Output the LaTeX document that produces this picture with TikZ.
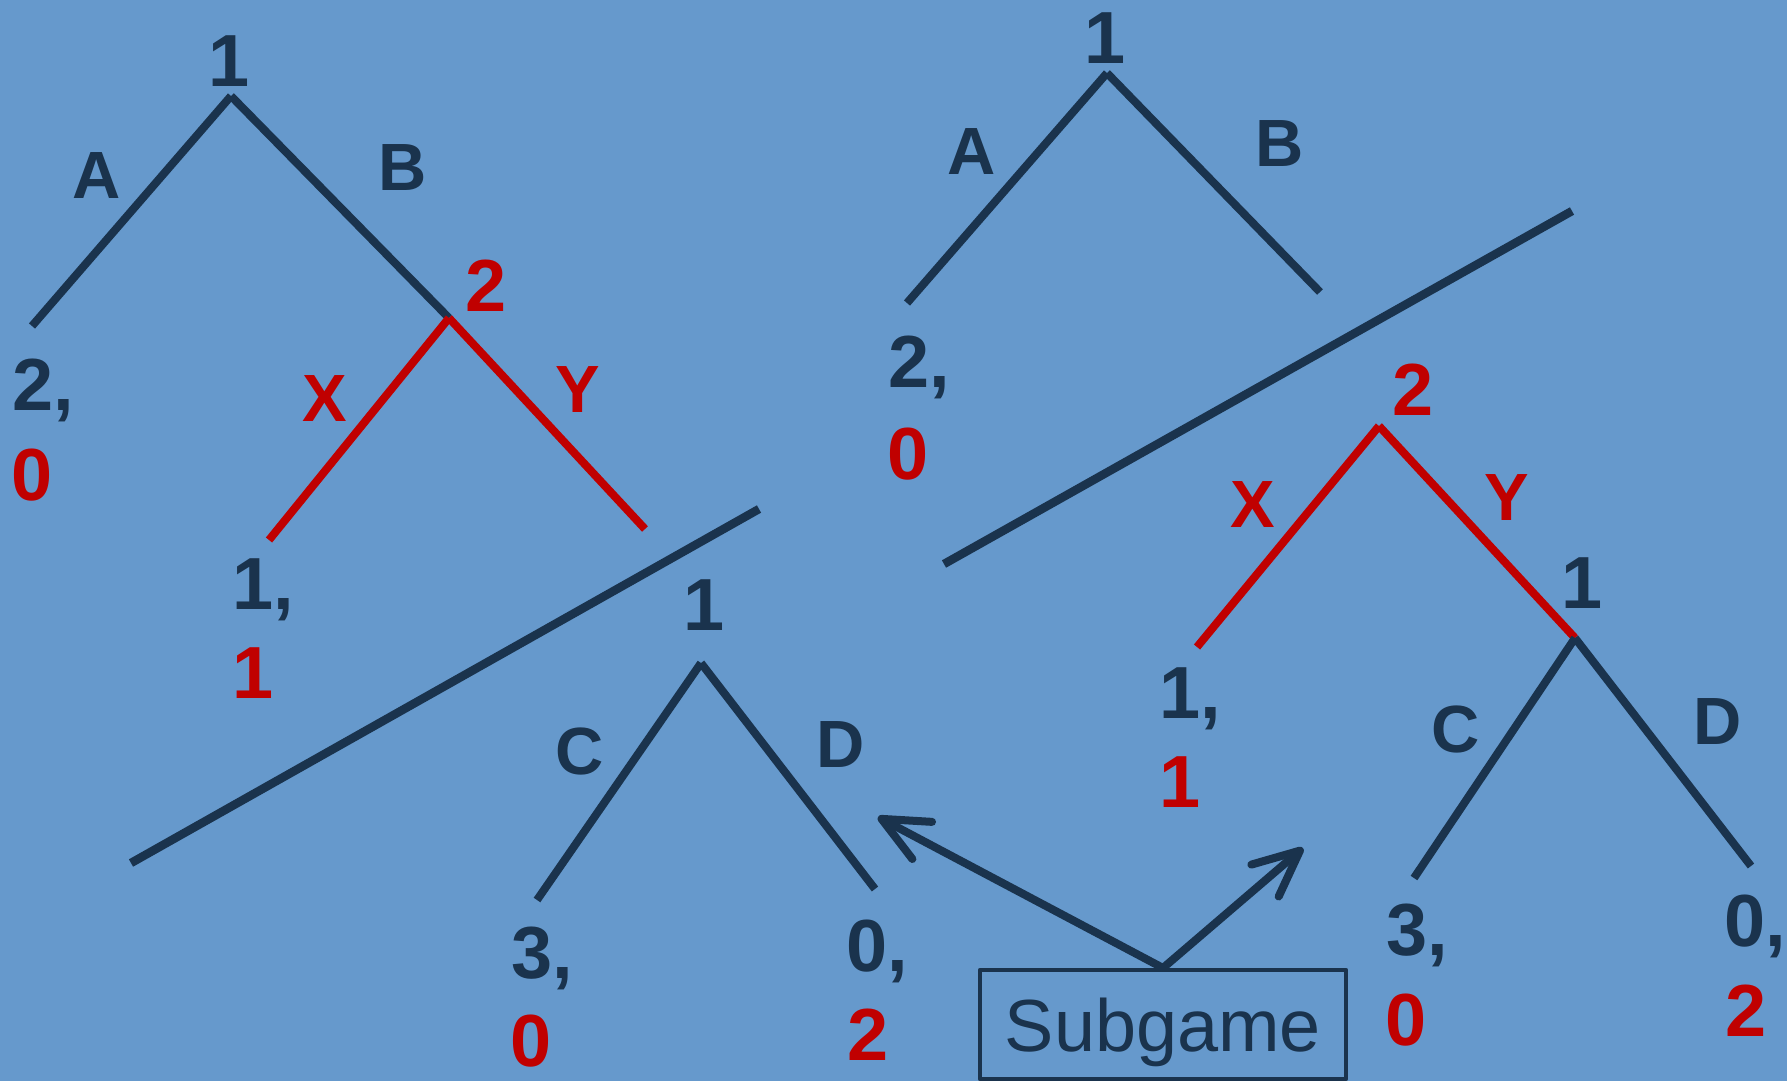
\documentclass[tikz,border=0pt]{standalone}
\usepackage{fontspec}
\setmainfont{Liberation Sans}
\usepackage{xcolor}
\usetikzlibrary{arrows.meta}
\definecolor{slidebg}{HTML}{6699CC}
\definecolor{navy}{HTML}{1A334D}
\definecolor{hired}{HTML}{C00000}

\begin{document}
\begin{tikzpicture}[x=0.01cm, y=-0.01cm, line join=round,
    branch/.style={line width=0.08cm, draw=navy},
    redbranch/.style={line width=0.08cm, draw=hired},
    cutline/.style={line width=0.085cm, draw=navy},
    pointer/.style={line width=0.08cm, draw=navy, line cap=round,
        -{Straight Barb[length=4.6mm, width=4.2mm, round]}},
    lbl/.style={inner sep=0pt, text=navy, font=\fontsize{19}{23}\selectfont\bfseries},
    rlbl/.style={lbl, text=hired},
    num/.style={inner sep=0pt, text=navy, font=\fontsize{21}{25}\selectfont\bfseries},
    rnum/.style={num, text=hired},
    pay/.style={num, anchor=base west},
    rpay/.style={rnum, anchor=base west}]

    % slide background, also fixes the size
    \fill[slidebg] (0,0) rectangle (1787,1081);

    % Full game: 1 moves A/B, then 2 moves X/Y
    \coordinate (L1) at (231,96);
    \coordinate (LA) at (32,326);
    \coordinate (L2) at (449,318);
    \coordinate (LX) at (269,540);
    \coordinate (LY) at (645,529);
    \draw[branch] (L1) -- (LA);
    \draw[branch] (L1) -- (L2);
    \draw[redbranch] (L2) -- (LX);
    \draw[redbranch] (L2) -- (LY);

    % cut between the upper part and the last stage
    \coordinate (Ca) at (131,863);
    \coordinate (Cb) at (759,509);
    \draw[cutline] (Ca) -- (Cb);

    % last stage: 1 moves C/D
    \coordinate (M1) at (701,663);
    \coordinate (MC) at (537,900);
    \coordinate (MD) at (875,889);
    \draw[branch] (M1) -- (MC);
    \draw[branch] (M1) -- (MD);

    % Second copy, cut one stage higher
    \coordinate (R1) at (1107,73);
    \coordinate (RA) at (907,303);
    \coordinate (RB) at (1320,292);
    \draw[branch] (R1) -- (RA);
    \draw[branch] (R1) -- (RB);

    \coordinate (Da) at (944,564);
    \coordinate (Db) at (1572,211);
    \draw[cutline] (Da) -- (Db);

    \coordinate (R2) at (1379,426);
    \coordinate (RX) at (1197,647);
    \coordinate (R3) at (1575,638);
    \coordinate (RC) at (1414,878);
    \coordinate (RD) at (1751,866);
    \draw[redbranch] (R2) -- (RX);
    \draw[redbranch] (R2) -- (R3);
    \draw[branch] (R3) -- (RC);
    \draw[branch] (R3) -- (RD);

    % players and moves
    \node[num] (pL1) at (229,61) {1};
    \node[lbl] (mLA) at (97,176) {A};
    \node[lbl] (mLB) at (403,168) {B};
    \node[rnum] (pL2) at (486,286) {2};
    \node[rlbl] (mLX) at (325,398) {X};
    \node[rlbl] (mLY) at (578,390) {Y};
    \node[num] (pM1) at (704,605) {1};
    \node[lbl] (mMC) at (580,751) {C};
    \node[lbl] (mMD) at (841,744) {D};

    \node[num] (pR1) at (1105,38) {1};
    \node[lbl] (mRA) at (972,152) {A};
    \node[lbl] (mRB) at (1280,144) {B};
    \node[rnum] (pR2) at (1413,390) {2};
    \node[rlbl] (mRX) at (1253,505) {X};
    \node[rlbl] (mRY) at (1507,497) {Y};
    \node[num] (pR3) at (1582,583) {1};
    \node[lbl] (mRC) at (1456,729) {C};
    \node[lbl] (mRD) at (1718,721) {D};

    % payoffs
    \node[pay] (uLA) at (12,410) {2,};
    \node[rpay] (vLA) at (11,500) {0};
    \node[pay] (uLX) at (232,609) {1,};
    \node[rpay] (vLX) at (232,698) {1};
    \node[pay] (uMC) at (511,978) {3,};
    \node[rpay] (vMC) at (510,1066) {0};
    \node[pay] (uMD) at (846,971) {0,};
    \node[rpay] (vMD) at (847,1060) {2};

    \node[pay] (uRA) at (888,387) {2,};
    \node[rpay] (vRA) at (887,479) {0};
    \node[pay] (uRX) at (1159,718) {1,};
    \node[rpay] (vRX) at (1159,807) {1};
    \node[pay] (uRC) at (1386,955) {3,};
    \node[rpay] (vRC) at (1385,1045) {0};
    \node[pay] (uRD) at (1724,946) {0,};
    \node[rpay] (vRD) at (1725,1036) {2};

    % Subgame box and pointers
    \node[draw=navy, line width=0.04cm, text=navy, minimum width=3.66cm,
          minimum height=1.09cm, text depth=0pt, inner sep=0pt,
          font=\fontsize{21}{25}\selectfont] (sub) at (1163,1024.5) {Subgame};
    \coordinate (tipL) at (878,817);
    \coordinate (tipR) at (1303,848);
    \draw[pointer] (sub.north) -- (tipL);
    \draw[pointer] (sub.north) -- (tipR);

\end{tikzpicture}
\end{document}
